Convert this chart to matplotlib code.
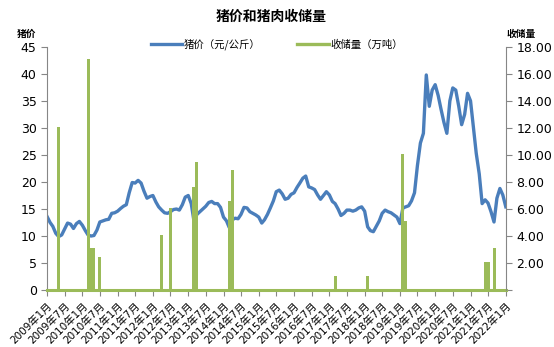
import matplotlib
matplotlib.use("Agg")
import matplotlib.pyplot as plt
from matplotlib.lines import Line2D
import pandas as pd
import numpy as np

plt.rcParams['font.family'] = ['DejaVu Sans', 'Noto Sans CJK SC']

start_month = '2009-01'
# 猪价 (元/公斤), monthly from 2009-01 to 2022-01
price = [
    13.6, 12.5, 11.8, 10.5, 9.9, 10.2, 11.3, 12.4, 12.2, 11.4,
    12.3, 12.7, 12.0, 11.0, 10.2, 10.0, 10.1, 11.1, 12.6, 12.8,
    13.0, 13.1, 14.2, 14.3, 14.6, 15.1, 15.5, 15.8, 18.0, 19.9,
    19.8, 20.3, 19.8, 18.3, 17.0, 17.3, 17.5, 16.3, 15.4, 14.8,
    14.3, 14.2, 14.5, 14.9, 15.0, 14.8, 15.8, 17.2, 17.5, 16.0,
    12.8, 14.0, 14.5, 15.0, 15.5, 16.2, 16.4, 16.0, 16.0, 15.3,
    13.5, 12.8, 11.6, 13.0, 13.3, 13.2, 14.0, 15.3, 15.2, 14.5,
    14.2, 13.9, 13.5, 12.4, 13.0, 14.0, 15.2, 16.5, 18.2, 18.5,
    17.8, 16.8, 17.0, 17.7, 18.0, 19.0, 19.8, 20.7, 21.1, 19.1,
    18.9, 18.6, 17.6, 16.8, 17.5, 18.2, 17.6, 16.4, 16.0, 15.0,
    13.8, 14.2, 14.8, 14.8, 14.6, 14.8, 15.2, 15.4, 14.6, 11.7,
    11.0, 10.8, 11.8, 12.8, 14.2, 14.8, 14.5, 14.3, 13.9, 13.5,
    12.3, 15.2, 15.4, 15.6, 16.5, 18.0, 23.0, 27.2, 29.0, 39.8,
    34.0, 37.0, 38.0, 36.0, 33.5, 31.0, 29.0, 35.0, 37.4, 37.0,
    34.0, 30.6, 32.5, 36.4, 35.0, 30.0, 25.3, 21.5, 16.0, 16.7,
    16.1, 14.5, 12.6, 17.0, 18.8, 17.6, 15.4,
]

# 收储量 (万吨): months with purchases; all other months are 0
storage_months = ['2009-05', '2010-03', '2010-04', '2010-05', '2010-07',
                  '2012-04', '2012-07', '2013-03', '2013-04', '2014-03',
                  '2014-04', '2017-03', '2018-02', '2019-02', '2019-03',
                  '2021-06', '2021-07', '2021-09']
storage_values = [12.1, 17.1, 3.1, 3.1, 2.45,
                  4.07, 6.1, 7.6, 9.5, 6.6,
                  8.9, 1.06, 1.06, 10.07, 5.1,
                  2.1, 2.1, 3.09]

dates = pd.date_range(start_month, periods=len(price), freq='MS')
storage = pd.Series(0.0, index=dates)
for m, v in zip(storage_months, storage_values):
    storage[pd.Timestamp(m)] = v

blue = '#4A7EBB'
green = '#9BBB59'
gray = '#868686'

fig = plt.figure(figsize=(5.54, 3.47), dpi=100)
ax = fig.add_axes([0.085, 0.164, 0.828, 0.701])
ax2 = ax.twinx()

ax.plot(dates, price, color=blue, lw=2.4, solid_joinstyle='round')
ax2.bar(dates, storage.values, width=31, color=green, align='center', linewidth=0)
ax2.axhline(0, color=green, lw=2.2, clip_on=False)

x0 = pd.Timestamp('2009-01-01')
x1 = pd.Timestamp('2022-01-01')
ax.set_xlim(x0, x1)
ax.set_ylim(0, 45)
ax2.set_ylim(0, 18)
ax.set_yticks(np.arange(0, 46, 5))
ax2.set_yticks(np.arange(0, 19, 2))
ax2.set_yticklabels([''] + [f'{v:.2f}' for v in np.arange(2, 19, 2)])

tick_dates = pd.date_range('2009-01-01', '2022-01-01', freq='6MS')
ax.set_xticks(tick_dates)
ax.set_xticklabels([f'{d.year}年{d.month}月' for d in tick_dates],
                   rotation=45, ha='right', va='top', rotation_mode='anchor', fontsize=7.5)

for a in (ax, ax2):
    a.spines['top'].set_visible(False)
    a.tick_params(axis='y', labelsize=9, color=gray, length=4, width=0.8)
    a.tick_params(axis='x', color=gray, length=4, width=0.8)
ax.spines['left'].set_color(gray)
ax2.spines['left'].set_visible(False)
ax2.spines['right'].set_color(gray)
ax.spines['right'].set_visible(False)
ax.spines['bottom'].set_color('black')
ax2.spines['bottom'].set_visible(False)

fig.text(0.49, 0.95, '猪价和猪肉收储量', ha='center', va='center', fontsize=10,
         fontweight='bold', family=['Noto Sans CJK SC'])
fig.text(0.048, 0.902, '猪价', ha='center', va='center', fontsize=7,
         fontweight='bold', family=['Noto Sans CJK SC'])
fig.text(0.94, 0.902, '收储量', ha='center', va='center', fontsize=7,
         fontweight='bold', family=['Noto Sans CJK SC'])

handles = [Line2D([], [], color=blue, lw=2.4), Line2D([], [], color=green, lw=2.4)]
fig.legend(handles, ['猪价（元/公斤）', '收储量（万吨）'], loc='center',
           bbox_to_anchor=(0.5, 0.872), ncol=2, frameon=False,
           handlelength=3, columnspacing=3.5, handletextpad=0.2,
           prop={'family': ['Noto Sans CJK SC'], 'size': 7.5})

fig.savefig('out.png', dpi=100)
